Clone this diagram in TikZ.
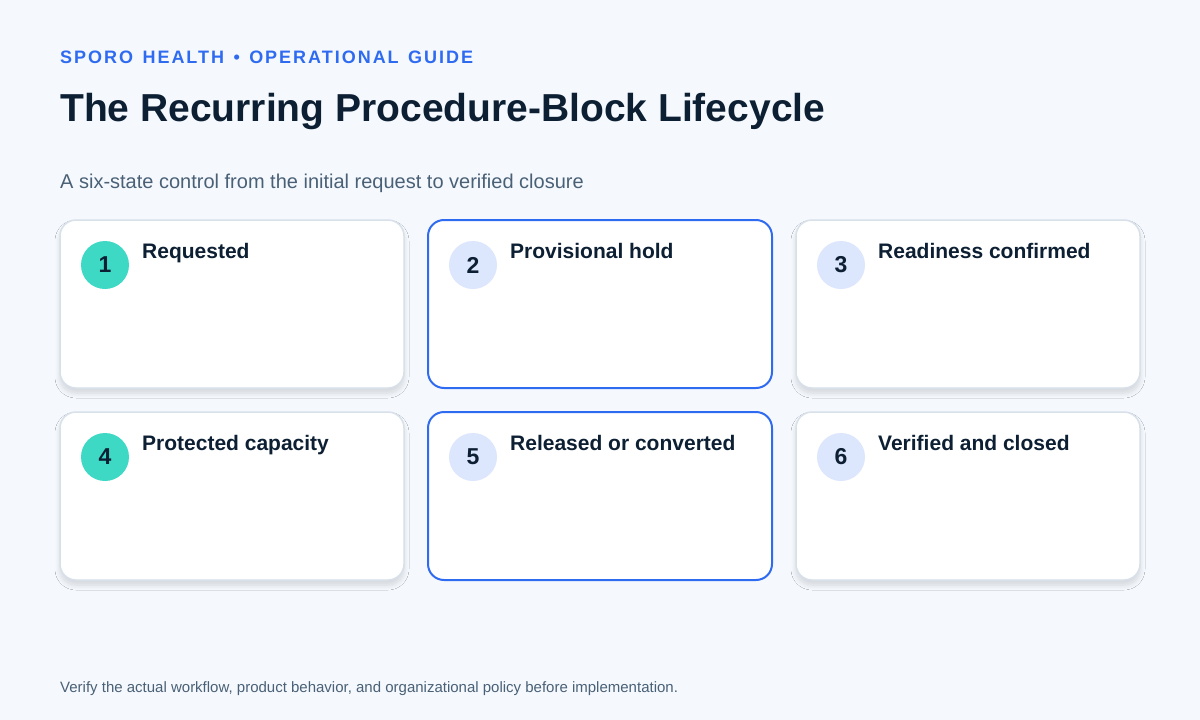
\documentclass[tikz,border=0pt]{standalone}
\usepackage{fontspec}
\setmainfont{Liberation Sans}
\newfontfamily\spacedfont[LetterSpace=11,WordSpace=1.35]{Liberation Sans}
\usetikzlibrary{shadows.blur}
\definecolor{bg}{HTML}{F5F9FE}
\definecolor{accent}{HTML}{2F6BF0}
\definecolor{ink}{HTML}{0D1F33}
\definecolor{muted}{HTML}{4A6076}
\definecolor{teal}{HTML}{3DD9C5}
\definecolor{pale}{HTML}{DCE6FD}
\definecolor{edge}{HTML}{D8E0EA}
\begin{document}
\begin{tikzpicture}[x=1pt,y=-1pt,
  card/.style={draw=edge,line width=1.5pt,fill=white,rounded corners=16pt,blur shadow={shadow xshift=0pt,shadow yshift=-5pt,shadow blur radius=5pt,shadow blur steps=8,shadow opacity=14}},
  hot/.style={draw=accent,line width=2pt,fill=white,rounded corners=16pt},
  num/.style={circle,minimum size=48pt,inner sep=0pt,font=\fontsize{23}{26}\selectfont\bfseries,text=ink},
  ttl/.style={anchor=base west,font=\fontsize{21}{24}\selectfont\bfseries,text=ink,inner sep=0pt}]
\fill[bg] (0,0) rectangle (1200,720);
\useasboundingbox (0,0) rectangle (1200,720);
\node[anchor=base west,inner sep=0pt,text=accent,font=\spacedfont\fontsize{18}{22}\selectfont\bfseries] (hdr) at (60,63) {SPORO HEALTH • OPERATIONAL GUIDE};
\node[anchor=base west,inner sep=0pt,text=ink,font=\fontsize{39}{46}\selectfont\bfseries] (title) at (60,121) {The Recurring Procedure-Block Lifecycle};
\node[anchor=base west,inner sep=0pt,text=muted,font=\fontsize{20}{24}\selectfont] (sub) at (60,188) {A six-state control from the initial request to verified closure};
\node[anchor=base west,inner sep=0pt,text=muted,font=\fontsize{15}{18}\selectfont] (foot) at (60,692) {Verify the actual workflow, product behavior, and organizational policy before implementation.};
\foreach \i/\x/\y/\s/\f/\t in {1/60/220/card/teal/Requested,2/428/220/hot/pale/Provisional hold,3/796/220/card/pale/Readiness confirmed,4/60/412/card/teal/Protected capacity,5/428/412/hot/pale/Released or converted,6/796/412/card/pale/Verified and closed}{
  \path[\s] (\x,\y) rectangle ++(344,168);
  \node[num,fill=\f] (n\i) at (\x+45,\y+45) {\i};
  \node[ttl] (t\i) at (\x+82,\y+38) {\t};
}
\end{tikzpicture}
\end{document}
